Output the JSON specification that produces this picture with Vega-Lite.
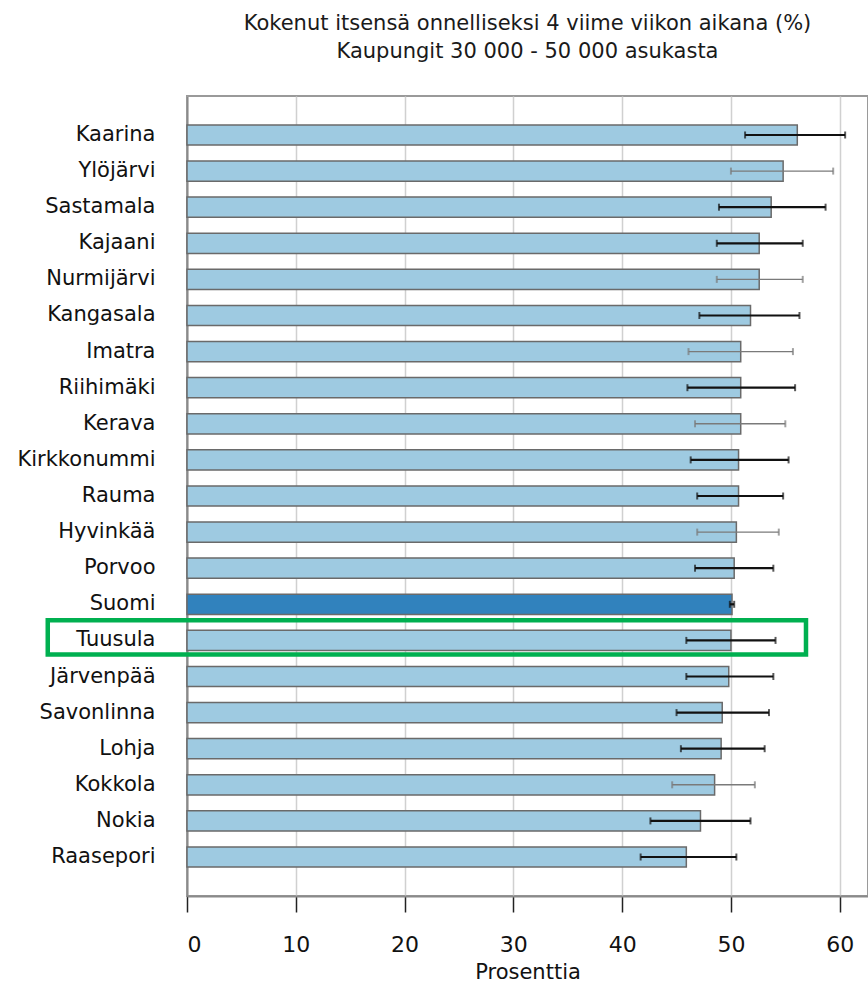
{
  "$schema": "https://vega.github.io/schema/vega-lite/v6.json",
  "autosize": {"type": "none"},
  "padding": {"left": 187, "top": 96, "right": 0, "bottom": 91},
  "width": 681,
  "height": 800,
  "background": "white",
  "config": {
    "font": "DejaVu Sans",
    "view": {"stroke": "#9a9a9a", "strokeWidth": 2}
  },
  "title": {
    "text": ["Kokenut itsensä onnelliseksi 4 viime viikon aikana (%)", "Kaupungit 30 000 - 50 000 asukasta"],
    "anchor": "middle",
    "font": "DejaVu Sans",
    "fontSize": 21,
    "fontWeight": "normal",
    "color": "#1a1a1a",
    "lineHeight": 28,
    "offset": 34
  },
  "datasets": {
    "kunnat": [
      {"kunta": "Kaarina", "arvo": 56.1, "ala": 51.3, "yla": 60.5, "ryhma": "kunta", "virhe": "tumma"},
      {"kunta": "Ylöjärvi", "arvo": 54.8, "ala": 50.0, "yla": 59.4, "ryhma": "kunta", "virhe": "vaalea"},
      {"kunta": "Sastamala", "arvo": 53.7, "ala": 48.9, "yla": 58.7, "ryhma": "kunta", "virhe": "tumma"},
      {"kunta": "Kajaani", "arvo": 52.6, "ala": 48.7, "yla": 56.6, "ryhma": "kunta", "virhe": "tumma"},
      {"kunta": "Nurmijärvi", "arvo": 52.6, "ala": 48.7, "yla": 56.6, "ryhma": "kunta", "virhe": "vaalea"},
      {"kunta": "Kangasala", "arvo": 51.8, "ala": 47.1, "yla": 56.3, "ryhma": "kunta", "virhe": "tumma"},
      {"kunta": "Imatra", "arvo": 50.9, "ala": 46.1, "yla": 55.7, "ryhma": "kunta", "virhe": "vaalea"},
      {"kunta": "Riihimäki", "arvo": 50.9, "ala": 46.0, "yla": 55.9, "ryhma": "kunta", "virhe": "tumma"},
      {"kunta": "Kerava", "arvo": 50.9, "ala": 46.7, "yla": 55.0, "ryhma": "kunta", "virhe": "vaalea"},
      {"kunta": "Kirkkonummi", "arvo": 50.7, "ala": 46.3, "yla": 55.3, "ryhma": "kunta", "virhe": "tumma"},
      {"kunta": "Rauma", "arvo": 50.7, "ala": 46.9, "yla": 54.8, "ryhma": "kunta", "virhe": "tumma"},
      {"kunta": "Hyvinkää", "arvo": 50.5, "ala": 46.9, "yla": 54.4, "ryhma": "kunta", "virhe": "vaalea"},
      {"kunta": "Porvoo", "arvo": 50.3, "ala": 46.7, "yla": 53.9, "ryhma": "kunta", "virhe": "tumma"},
      {"kunta": "Suomi", "arvo": 50.1, "ala": 49.9, "yla": 50.3, "ryhma": "Suomi", "virhe": "tumma"},
      {"kunta": "Tuusula", "arvo": 50.0, "ala": 45.9, "yla": 54.1, "ryhma": "kunta", "virhe": "tumma"},
      {"kunta": "Järvenpää", "arvo": 49.8, "ala": 45.9, "yla": 53.9, "ryhma": "kunta", "virhe": "tumma"},
      {"kunta": "Savonlinna", "arvo": 49.2, "ala": 45.0, "yla": 53.5, "ryhma": "kunta", "virhe": "tumma"},
      {"kunta": "Lohja", "arvo": 49.1, "ala": 45.4, "yla": 53.1, "ryhma": "kunta", "virhe": "tumma"},
      {"kunta": "Kokkola", "arvo": 48.5, "ala": 44.6, "yla": 52.2, "ryhma": "kunta", "virhe": "vaalea"},
      {"kunta": "Nokia", "arvo": 47.2, "ala": 42.6, "yla": 51.8, "ryhma": "kunta", "virhe": "tumma"},
      {"kunta": "Raasepori", "arvo": 45.9, "ala": 41.7, "yla": 50.5, "ryhma": "kunta", "virhe": "tumma"}
    ],
    "korostus": [
      {"kunta": "Tuusula", "alku": -12.8, "loppu": 56.9}
    ]
  },
  "data": {"name": "kunnat"},
  "encoding": {
    "y": {
      "field": "kunta",
      "type": "nominal",
      "sort": null,
      "scale": {"paddingInner": 0.44, "paddingOuter": 0.8},
      "axis": {
        "title": null,
        "ticks": false,
        "labelFont": "DejaVu Sans",
        "labelFontSize": 21,
        "labelColor": "#111",
        "labelPadding": 32,
        "domainColor": "#8a8a8a",
        "domainWidth": 2
      }
    }
  },
  "layer": [
    {
      "mark": {"type": "bar", "stroke": "#6a6a6a", "strokeWidth": 1.5},
      "encoding": {
        "x": {
          "field": "arvo",
          "type": "quantitative",
          "scale": {"domain": [0, 62.6], "nice": false},
          "axis": {
            "values": [0, 10, 20, 30, 40, 50, 60],
            "title": "Prosenttia",
            "titleFont": "DejaVu Sans",
            "titleFontSize": 21,
            "titleFontWeight": "normal",
            "titleColor": "#111",
            "titlePadding": 6,
            "labelFont": "DejaVu Sans",
            "labelFontSize": 22,
            "labelColor": "#111",
            "labelPadding": 22,
            "tickSize": 16,
            "tickColor": "#222",
            "tickWidth": 1.5,
            "domainColor": "#8a8a8a",
            "domainWidth": 2,
            "gridColor": "#d0d0d0",
            "gridWidth": 1.5
          }
        },
        "fill": {
          "field": "ryhma",
          "type": "nominal",
          "scale": {"domain": ["kunta", "Suomi"], "range": ["#9ecae1", "#3182bd"]},
          "legend": null
        }
      }
    },
    {
      "mark": {"type": "rule"},
      "encoding": {
        "x": {"field": "ala", "type": "quantitative"},
        "x2": {"field": "yla"},
        "color": {
          "field": "virhe",
          "type": "nominal",
          "scale": {"domain": ["tumma", "vaalea"], "range": ["#111111", "#7a7a7a"]},
          "legend": null
        },
        "strokeWidth": {
          "field": "virhe",
          "type": "nominal",
          "scale": {"domain": ["tumma", "vaalea"], "range": [2.2, 1.4]},
          "legend": null
        }
      }
    },
    {
      "mark": {"type": "tick", "thickness": 2, "size": 7},
      "encoding": {
        "x": {"field": "ala", "type": "quantitative"},
        "color": {"field": "virhe", "type": "nominal", "legend": null}
      }
    },
    {
      "mark": {"type": "tick", "thickness": 2, "size": 7},
      "encoding": {
        "x": {"field": "yla", "type": "quantitative"},
        "color": {"field": "virhe", "type": "nominal", "legend": null}
      }
    },
    {
      "data": {"name": "korostus"},
      "mark": {"type": "bar", "fill": null, "fillOpacity": 0, "stroke": "#00b050", "strokeWidth": 4.5, "height": {"band": 1.7}, "yOffset": -3, "clip": false},
      "encoding": {
        "x": {"field": "alku", "type": "quantitative"},
        "x2": {"field": "loppu"}
      }
    }
  ]
}
